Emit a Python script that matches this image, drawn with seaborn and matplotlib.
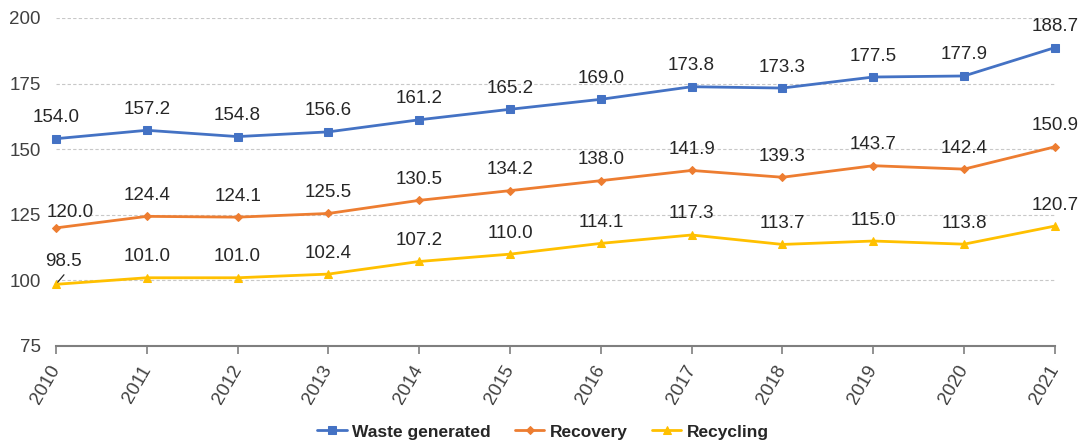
import matplotlib
matplotlib.use("Agg")
import matplotlib.pyplot as plt
import seaborn as sns
import pandas as pd

years = ["2010", "2011", "2012", "2013", "2014", "2015",
         "2016", "2017", "2018", "2019", "2020", "2021"]
waste_generated = [154.0, 157.2, 154.8, 156.6, 161.2, 165.2,
                   169.0, 173.8, 173.3, 177.5, 177.9, 188.7]
recovery = [120.0, 124.4, 124.1, 125.5, 130.5, 134.2,
            138.0, 141.9, 139.3, 143.7, 142.4, 150.9]
recycling = [98.5, 101.0, 101.0, 102.4, 107.2, 110.0,
             114.1, 117.3, 113.7, 115.0, 113.8, 120.7]
y_ticks = [75, 100, 125, 150, 175, 200]

series_names = ["Waste generated", "Recovery", "Recycling"]
series_values = [waste_generated, recovery, recycling]
colors = ["#4472C4", "#ED7D31", "#FFC000"]
markers = ["s", "D", "^"]
marker_sizes = [6, 4, 6]

sns.set_theme(style="white")
plt.rcParams["font.family"] = ["Liberation Sans", "DejaVu Sans"]

df = pd.DataFrame({
    "year": years * 3,
    "value": waste_generated + recovery + recycling,
    "series": sum([[n] * len(years) for n in series_names], []),
})
df["x"] = df["year"].map({y: i for i, y in enumerate(years)})

fig = plt.figure(figsize=(10.83, 4.45), dpi=100)
ax = fig.add_axes([0.0517, 0.2225, 0.9223, 0.7371])

for name, color, mk, ms in zip(series_names, colors, markers, marker_sizes):
    sub = df[df["series"] == name]
    sns.lineplot(data=sub, x="x", y="value", ax=ax, color=color, marker=mk,
                 markersize=ms, markeredgecolor=color, linewidth=2.0,
                 label=name, clip_on=False, zorder=3)

# value labels above each point
text_color = "#262626"
fs = 13.5
for vals in series_values:
    for i, v in enumerate(vals):
        if vals is recycling and i == 0:
            ax.annotate(f"{v:.1f}", xy=(i, v), xytext=(-8, 10),
                        textcoords="offset points", ha="left", va="bottom",
                        fontsize=fs, color=text_color,
                        arrowprops=dict(arrowstyle="-", color="#262626", lw=0.9,
                                        shrinkA=1, shrinkB=2, relpos=(0.62, 0.0)))
        elif vals is recovery and i == 0:
            ax.annotate(f"{v:.1f}", xy=(i, v), xytext=(10, 5),
                        textcoords="offset points", ha="center", va="bottom",
                        fontsize=fs, color=text_color)
        else:
            ax.annotate(f"{v:.1f}", xy=(i, v), xytext=(0, 9),
                        textcoords="offset points", ha="center", va="bottom",
                        fontsize=fs, color=text_color)

ax.set_xlim(0, len(years) - 1)
ax.set_ylim(75, 200)
ax.set_yticks(y_ticks)
ax.set_yticklabels([str(t) for t in y_ticks], fontsize=fs, color="#404040")
ax.set_xticks(range(len(years)))
ax.set_xticklabels(years, rotation=60, ha="right", va="center",
                   rotation_mode="anchor", fontsize=fs, color="#404040")
ax.set_xlabel("")
ax.set_ylabel("")

for t in y_ticks[1:]:
    ax.axhline(t, color="#C8C8C8", linestyle=(0, (3, 2)), linewidth=0.8, zorder=1)

for side in ["left", "right", "top"]:
    ax.spines[side].set_visible(False)
ax.spines["bottom"].set_color("#7F7F7F")
ax.spines["bottom"].set_linewidth(1.5)
ax.tick_params(axis="x", bottom=True, length=6, width=1.2, color="#7F7F7F", pad=9)
ax.tick_params(axis="y", left=False, length=0, pad=11)

leg = ax.legend(loc="center", bbox_to_anchor=(0.4875, -0.262), ncol=3,
                frameon=False, handlelength=1.7, columnspacing=1.4,
                handletextpad=0.3, prop={"weight": "bold", "size": 12.5})
for txt in leg.get_texts():
    txt.set_color("#262626")

fig.savefig("out.png", dpi=100)
